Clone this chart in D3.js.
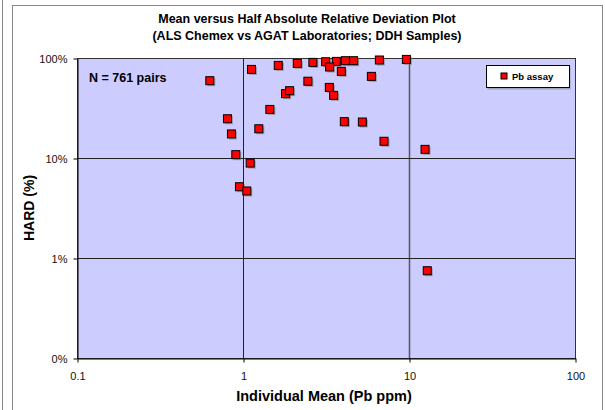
<!DOCTYPE html>
<html><head><meta charset="utf-8">
<script src="https://cdn.jsdelivr.net/npm/d3@7"></script>
<style>body{margin:0;background:#fff;}svg{display:block;font-family:Arial,"Liberation Sans",sans-serif;}</style>
</head><body>
<svg id="c" width="605" height="410"></svg>
<script>
const meanPb = [0.631,1.125,1.631,2.123,2.636,2.459,1.805,1.908,1.451,0.806,1.245,0.852,0.905,1.105,0.952,1.054,3.146,3.649,4.134,4.639,3.324,3.911,6.630,9.645,5.933,3.311,3.514,4.077,5.236,7.068,12.49,12.88];
const hardPct = [59.3,76.9,84.3,88.3,90.4,58.6,44.0,47.1,30.6,24.7,19.6,17.4,10.8,8.9,5.16,4.68,91.8,92.5,94.0,94.0,81.3,73.5,95.5,96.8,65.5,50.8,42.3,23.1,22.9,14.7,12.2,0.746];
const xTicks = [0.1,1,10,100];
const xTickLabels = ["0.1","1","10","100"];
const yTicks = [0.1,1,10,100];
const yTickLabels = ["0%","1%","10%","100%"];

const svg = d3.select("#c");
// outer frames
svg.append("rect").attr("x",12.5).attr("y",5.5).attr("width",590).attr("height",410).attr("fill","#fff").attr("stroke","#888").attr("stroke-width",1);
svg.append("line").attr("x1",2.5).attr("x2",2.5).attr("y1",0).attr("y2",410).attr("stroke","#888");

const L=77, R=575, T=58, B=358;
const x = d3.scaleLog().domain([0.1,100]).range([L,R]);
const y = d3.scaleLog().domain([0.1,100]).range([B,T]);

svg.append("rect").attr("x",L).attr("y",T).attr("width",R-L).attr("height",B-T).attr("fill","#CCCCFF");

// grid
const g = svg.append("g");
g.selectAll(".vg").data([1,10]).enter().append("line")
 .attr("x1",d=>Math.round(x(d))+0.5).attr("x2",d=>Math.round(x(d))+0.5).attr("y1",T).attr("y2",B).attr("stroke",(d,i)=>i?"#555":"#222").attr("stroke-width",(d,i)=>i?1.5:1);
g.selectAll(".hg").data([1,10]).enter().append("line")
 .attr("x1",L).attr("x2",R).attr("y1",d=>Math.round(y(d))+0.5).attr("y2",d=>Math.round(y(d))+0.5).attr("stroke","#222");

svg.append("rect").attr("x",L+0.5).attr("y",T+0.5).attr("width",R-L).attr("height",B-T).attr("fill","none").attr("stroke","#333");

// axes
const xa = d3.axisBottom(x).tickValues(xTicks).tickFormat((d,i)=>xTickLabels[i]).tickSize(4).tickSizeOuter(0);
const xg = svg.append("g").attr("transform",`translate(0.5,${B+0.5})`).call(xa);
xg.select(".domain").attr("stroke","#000");
xg.selectAll("text").attr("font-size",11).attr("fill","#111").attr("y",11).attr("dy","0.95em").attr("font-family","Arial, Liberation Sans");
const ya = d3.axisLeft(y).tickValues(yTicks).tickFormat((d,i)=>yTickLabels[i]).tickSize(4).tickSizeOuter(0);
const yg = svg.append("g").attr("transform",`translate(${L+0.5},0.5)`).call(ya);
yg.select(".domain").attr("stroke","#000");
yg.selectAll("text").attr("font-size",11).attr("fill","#111").attr("x",-10).attr("font-family","Arial, Liberation Sans");

// points
const pts = meanPb.map((v,i)=>({x:v,y:hardPct[i]}));
const s=8;
svg.append("g").selectAll("rect").data(pts).enter().append("rect")
 .attr("x",d=>x(d.x)-s/2+1.5).attr("y",d=>y(d.y)-s/2+1.5).attr("width",s).attr("height",s).attr("fill","#777").attr("opacity",0.6);
svg.append("g").selectAll("rect").data(pts).enter().append("rect")
 .attr("x",d=>x(d.x)-s/2).attr("y",d=>y(d.y)-s/2).attr("width",s).attr("height",s).attr("fill","#FF0000").attr("stroke","#000").attr("stroke-width",1);

// titles
svg.append("text").attr("x",307).attr("y",23).attr("text-anchor","middle").attr("font-weight","bold").attr("font-size",12.5).text("Mean versus Half Absolute Relative Deviation Plot");
svg.append("text").attr("x",307).attr("y",40).attr("text-anchor","middle").attr("font-weight","bold").attr("font-size",12.5).text("(ALS Chemex vs AGAT Laboratories; DDH Samples)");
svg.append("text").attr("x",324).attr("y",401).attr("text-anchor","middle").attr("font-weight","bold").attr("font-size",14.5).text("Individual Mean (Pb ppm)");
svg.append("text").attr("transform","translate(34,208) rotate(-90)").attr("text-anchor","middle").attr("font-weight","bold").attr("font-size",14).text("HARD (%)");
svg.append("text").attr("x",89).attr("y",82).attr("font-weight","bold").attr("font-size",12.5).text("N = 761 pairs");

// legend
svg.append("rect").attr("x",487.5).attr("y",66.5).attr("width",83).attr("height",23).attr("fill","#777").attr("opacity",0.5);
svg.append("rect").attr("x",486.5).attr("y",65.5).attr("width",83).attr("height",22).attr("fill","#fff").attr("stroke","#000");
svg.append("rect").attr("x",501).attr("y",73).attr("width",6).attr("height",6).attr("fill","#FF0000").attr("stroke","#000");
svg.append("text").attr("x",512).attr("y",80).attr("font-weight","bold").attr("font-size",9.5).text("Pb assay");
</script>
</body></html>
